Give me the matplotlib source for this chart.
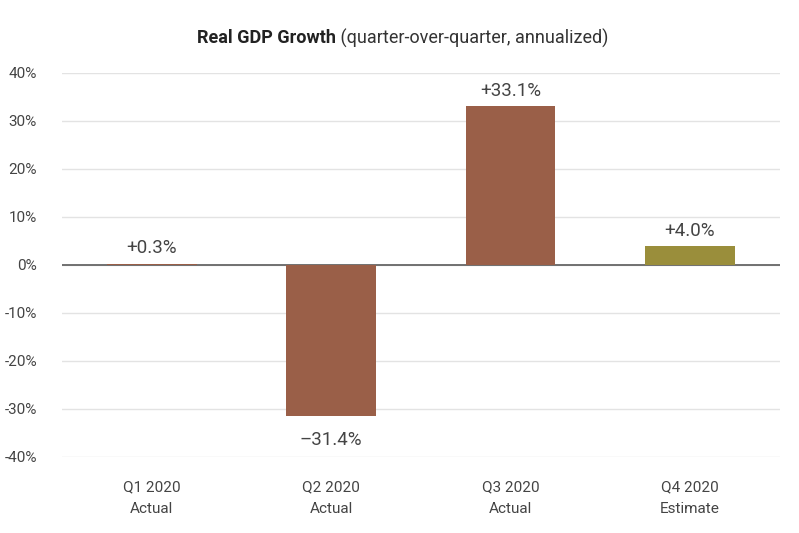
import matplotlib.pyplot as plt

plt.rcParams['font.family'] = ['Roboto', 'DejaVu Sans']

quarters = ['Q1 2020\nActual', 'Q2 2020\nActual', 'Q3 2020\nActual', 'Q4 2020\nEstimate']
growth = [0.3, -31.4, 33.1, 4.0]
labels = ['+0.3%', '\u201331.4%', '+33.1%', '+4.0%']
colors = ['#9a5f48', '#9a5f48', '#9a5f48', '#9a8e3b']

fig = plt.figure(figsize=(7.99, 5.33), dpi=100)
ax = fig.add_axes([0.0776, 0.1426, 0.898, 0.7205])

x = range(len(growth))
ax.axhline(0, color='#666666', lw=1.3, zorder=2)
ax.bar(x, growth, width=0.5, color=colors, zorder=3)
for i, v in enumerate(growth):
    if v >= 0:
        ax.text(i, v + 1.3, labels[i], ha='center', va='bottom', fontsize=13.5, color='#444444')
    else:
        ax.text(i, v - 3.2, labels[i], ha='center', va='top', fontsize=13.5, color='#444444')

ax.set_ylim(-40, 40)
ax.set_xlim(-0.5, 3.5)
ax.set_yticks(range(-40, 41, 10))
ax.set_yticklabels([f'{t}%' for t in range(-40, 41, 10)])
ax.set_xticks(list(x))
ax.set_xticklabels(quarters, linespacing=1.7)
ax.grid(axis='y', color='#e3e3e3', lw=1, zorder=0)
for s in ax.spines.values():
    s.set_visible(False)
ax.tick_params(length=0, labelsize=11, colors='#444444')
ax.tick_params(axis='y', pad=18)
ax.tick_params(axis='x', pad=17)

fig.text(0.42, 0.928, 'Real GDP Growth', ha='right', va='center', fontsize=13, fontweight='bold', color='#222222')
fig.text(0.42, 0.928, ' (quarter-over-quarter, annualized)', ha='left', va='center', fontsize=13, color='#333333')

fig.savefig('out.png', dpi=100)
